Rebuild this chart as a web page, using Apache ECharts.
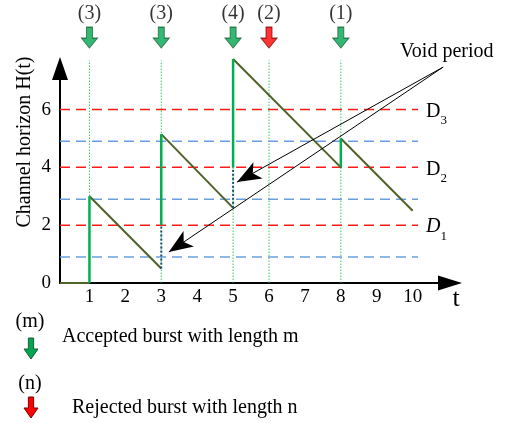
<!DOCTYPE html>
<html><head><meta charset="utf-8">
<script src="https://cdn.jsdelivr.net/npm/echarts@6/dist/echarts.min.js"></script>
<style>html,body{margin:0;padding:0;background:#fff}#c{width:511px;height:423px}</style>
</head><body><div id="c"></div>
<script>
// ---- data ----
const xTicks = [1, 2, 3, 4, 5, 6, 7, 8, 9, 10];
const yTicks = [0, 2, 4, 6];
const thresholds = [2, 4, 6];            // D1, D2, D3
const thresholdLabels = ['{di|D}{s|1}', '{d|D}{s|2}', '{d|D}{s|3}'];
const guideLevels = [0.9, 2.9, 4.9];     // blue dashed guides
const burstTimes = [1, 3, 5, 6, 8];
const burstLengths = [3, 3, 4, 2, 1];
const burstAccepted = [true, true, true, false, true];
const horizonBefore = [0, 0.5, 2.6, 6.5, 4];
const voidLevel = [null, 2, 4, null, null];
const horizonAfter = [3, 5.15, 7.75, 6.5, 5];
const horizonEnd = [10, 2.5];
const voidLabelAnchor = [10.85, 7.47];
const voidArrowTips = [[5.11, 3.49], [3.21, 1.07]];

// ---- layout constants ----
const X_MIN = 0.18, X_MAX = 11.04, Y_MAX = 7.42;
const LINE_END = 10.15, GUIDE_TOP = 7.7, ARROW_ROW = 8.49;
const FONT = 'Liberation Serif';
const GREEN = '#00b050', OLIVE = '#4f6228';
const ARROW_PATH = 'path://M5,0 L11,0 L11,11 L16,11 L8,21 L0,11 L5,11 Z';

function arrowPoly(x, y, w, h) {
  const pts = [[5,0],[11,0],[11,11],[16,11],[8,21],[0,11],[5,11]];
  return pts.map(p => [x + p[0] / 16 * w, y + p[1] / 21 * h]);
}

const series = [];
function seg(pts, style, z, extra) {
  series.push(Object.assign({
    type: 'line', data: pts, symbol: 'none', silent: true, clip: false,
    lineStyle: style, z: z, animation: false
  }, extra || {}));
}
// thin dotted burst-time guides
burstTimes.forEach(t => seg([[t, 0], [t, GUIDE_TOP]], {color: '#22c060', width: 1, type: [1.5, 1.5], opacity: 0.9}, 1));
// dashed threshold lines
thresholds.forEach((v, i) => seg([[X_MIN, v], [LINE_END, v]], {color: '#ff1a1a', width: 1.5, type: [10, 6]}, 2, {
  endLabel: {show: true, formatter: thresholdLabels[i], distance: 8, offset: [0, 2], color: '#000',
    rich: {
      d: {fontFamily: FONT, fontSize: 20, lineHeight: 22, color: '#000'},
      di: {fontFamily: FONT, fontSize: 20, lineHeight: 22, fontStyle: 'italic', color: '#000'},
      s: {fontFamily: FONT, fontSize: 13, lineHeight: 13, padding: [14, 0, 0, 0], verticalAlign: 'top', color: '#000'}
    }}
}));
guideLevels.forEach(v => seg([[X_MIN, v], [LINE_END, v]], {color: '#6a9edf', width: 1.5, type: [10, 6]}, 2));

// horizon decline segments
const acc = burstTimes.map((t, i) => i).filter(i => burstAccepted[i]);
seg([[X_MIN, 0], [burstTimes[acc[0]], horizonBefore[acc[0]]]], {color: OLIVE, width: 2}, 3);
acc.forEach((i, k) => {
  const start = [burstTimes[i], horizonAfter[i]];
  const end = k + 1 < acc.length ? [burstTimes[acc[k + 1]], horizonBefore[acc[k + 1]]] : horizonEnd;
  seg([start, end], {color: OLIVE, width: 2}, 3);
});
// burst jumps and void periods
acc.forEach(i => {
  const t = burstTimes[i];
  const base = voidLevel[i] != null ? voidLevel[i] : horizonBefore[i];
  seg([[t, base], [t, horizonAfter[i]]], {color: GREEN, width: 2.5}, 4);
  if (voidLevel[i] != null) seg([[t, horizonBefore[i]], [t, voidLevel[i]]], {color: '#1f4e79', width: 2, type: [2, 2]}, 5);
});
// burst arrows
series.push({
  type: 'scatter', clip: false, silent: true, z: 6, animation: false,
  symbol: ARROW_PATH, symbolSize: [16, 21],
  data: burstTimes.map((t, i) => ({
    value: [t, ARROW_ROW],
    itemStyle: burstAccepted[i] ? {color: '#00a650', borderColor: '#1e5a34', borderWidth: 1}
                                : {color: '#ff0000', borderColor: '#7a0000', borderWidth: 1},
    label: {show: true, position: 'top', distance: 3, formatter: '(' + burstLengths[i] + ')',
      fontFamily: FONT, fontSize: 20, color: '#000'}
  }))
});
// void period pointers
series.push({
  type: 'lines', coordinateSystem: 'cartesian2d', clip: false, silent: true, z: 7, animation: false,
  symbol: ['none', 'arrow'], symbolSize: [1, [14, 24]],
  lineStyle: {color: '#000', width: 1, opacity: 1, curveness: 0},
  itemStyle: {color: '#000'},
  data: voidArrowTips.map(p => ({coords: [voidLabelAnchor, p]}))
});

const option = {
  animation: false,
  backgroundColor: '#fff',
  grid: {left: 60, right: 61, top: 68.5, bottom: 140},
  xAxis: {
    type: 'value', min: X_MIN, max: X_MAX,
    axisLine: {show: true, onZero: false, lineStyle: {color: '#000', width: 2}, symbol: ['none', 'triangle'], symbolSize: [15, 24]},
    axisTick: {show: false}, splitLine: {show: false},
    axisLabel: {customValues: xTicks, color: '#000', fontFamily: FONT, fontSize: 19, margin: 5}
  },
  yAxis: {
    type: 'value', min: 0, max: Y_MAX,
    axisLine: {show: true, onZero: false, lineStyle: {color: '#000', width: 2}, symbol: ['none', 'triangle'], symbolSize: [16, 23]},
    axisTick: {show: false}, splitLine: {show: false},
    axisLabel: {customValues: yTicks, color: '#000', fontFamily: FONT, fontSize: 19, margin: 9}
  },
  graphic: [
    {type: 'text', x: 25, y: 142, rotation: Math.PI / 2,
      style: {text: 'Channel horizon H(t)', font: '20px "Liberation Serif"', fill: '#000', align: 'center', verticalAlign: 'middle'}},
    {type: 'text', x: 456, y: 299,
      style: {text: 't', font: '26px "Liberation Serif"', fill: '#000', align: 'center', verticalAlign: 'middle'}},
    {type: 'text', x: 400, y: 52,
      style: {text: 'Void period', font: '20px "Liberation Serif"', fill: '#000', align: 'left', verticalAlign: 'middle'}},
    {type: 'text', x: 30, y: 322,
      style: {text: '(m)', font: '20px "Liberation Serif"', fill: '#000', align: 'center', verticalAlign: 'middle'}},
    {type: 'polygon', shape: {points: arrowPoly(24, 338, 14, 21)},
      style: {fill: '#00a650', stroke: '#1e5a34', lineWidth: 1}},
    {type: 'text', x: 62, y: 337,
      style: {text: 'Accepted burst with length m', font: '20px "Liberation Serif"', fill: '#000', align: 'left', verticalAlign: 'middle'}},
    {type: 'text', x: 30, y: 384,
      style: {text: '(n)', font: '20px "Liberation Serif"', fill: '#000', align: 'center', verticalAlign: 'middle'}},
    {type: 'polygon', shape: {points: arrowPoly(24, 397, 14, 21)},
      style: {fill: '#ff0000', stroke: '#7a0000', lineWidth: 1}},
    {type: 'text', x: 72, y: 408,
      style: {text: 'Rejected burst with length n', font: '20px "Liberation Serif"', fill: '#000', align: 'left', verticalAlign: 'middle'}}
  ],
  series: series
};
const chart = echarts.init(document.getElementById('c'), null, {renderer: 'canvas'});
chart.setOption(option);
</script></body></html>
